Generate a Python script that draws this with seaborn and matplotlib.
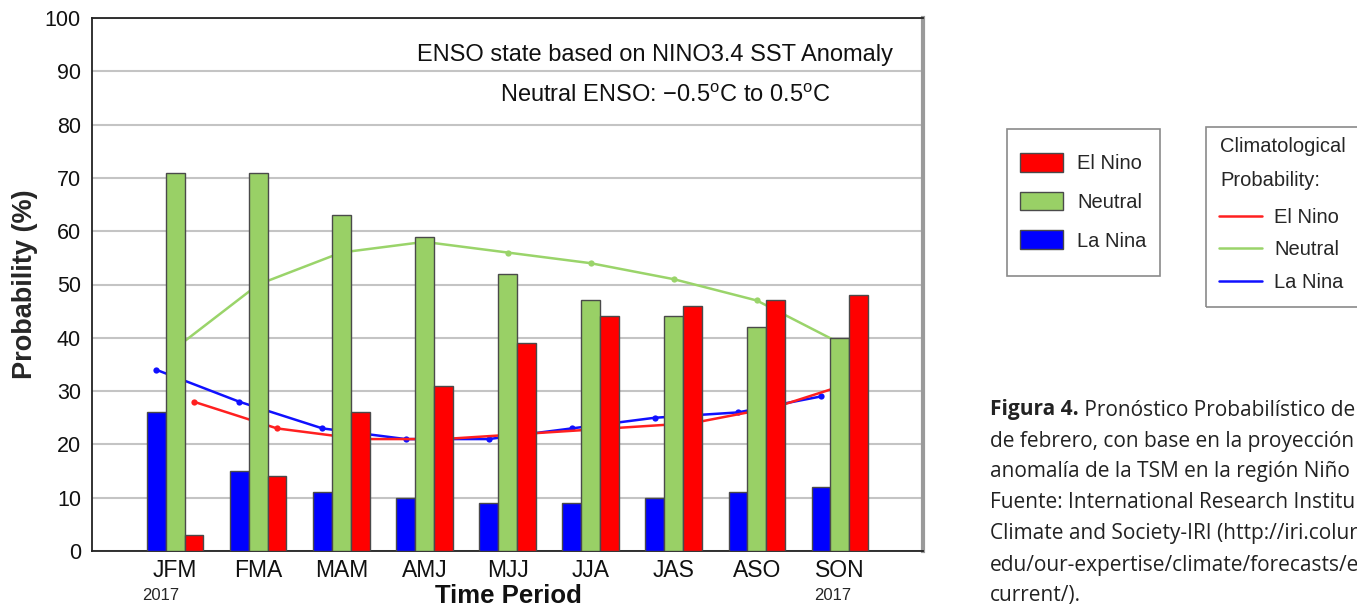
import numpy as np
import pandas as pd
import matplotlib.pyplot as plt
import seaborn as sns
from matplotlib.patches import Patch, Rectangle
from matplotlib.lines import Line2D

# data
periods = ["JFM", "FMA", "MAM", "AMJ", "MJJ", "JJA", "JAS", "ASO", "SON"]
la_nina = [26, 15, 11, 10, 9, 9, 10, 11, 12]
neutral = [71, 71, 63, 59, 52, 47, 44, 42, 40]
el_nino = [3, 14, 26, 31, 39, 44, 46, 47, 48]

# climatological probability
clim_la_nina = [34, 28, 23, 21, 21, 23, 25, 26, 29]
clim_neutral = [38, 50, 56, 58, 56, 54, 51, 47, 39]
clim_el_nino = [28, 23, 21, 21, 22, 23, 24, 27, 32]

states = ["La Nina", "Neutral", "El Nino"]
colors = {"La Nina": "#0000ff", "Neutral": "#99d066", "El Nino": "#ff0000"}
line_colors = {"La Nina": "#1010ff", "Neutral": "#9ad46a", "El Nino": "#ff2020"}

df = pd.DataFrame({
    "period": periods * 3,
    "state": ["La Nina"] * 9 + ["Neutral"] * 9 + ["El Nino"] * 9,
    "prob": la_nina + neutral + el_nino,
})

sns.set_theme(style="white")
plt.rcParams["font.family"] = ["Liberation Sans", "DejaVu Sans"]
plt.rcParams["mathtext.fontset"] = "custom"
plt.rcParams["mathtext.rm"] = "Liberation Sans"

W, H = 1357, 609
fig = plt.figure(figsize=(W / 100, H / 100), dpi=100)
ax = fig.add_axes([92 / W, 58 / H, 831 / W, 533 / H])

bar_w = 0.68
sns.barplot(data=df, x="period", y="prob", hue="state", hue_order=states,
            palette=colors, width=bar_w, saturation=1, edgecolor="#4a4a4a",
            linewidth=1, legend=False, ax=ax, zorder=3)

# climatology lines, drawn under the bars
off = bar_w / 3
xs = np.arange(len(periods))
for name, vals, dx in [("Neutral", clim_neutral, 0),
                       ("La Nina", clim_la_nina, -off),
                       ("El Nino", clim_el_nino, off)]:
    ax.plot(xs + dx, vals, color=line_colors[name], lw=1.8, marker="o",
            ms=4.5, mew=0, zorder=2)

ax.set_xlim(-1, 9)
ax.set_ylim(0, 100)
ax.set_yticks(range(0, 101, 10))
ax.yaxis.grid(True, color="#c4c4c4", lw=1.5, zorder=0)
ax.xaxis.grid(False)
ax.tick_params(axis="both", length=0, colors="#111111")
ax.tick_params(axis="x", pad=6, labelsize=16.5)
ax.tick_params(axis="y", pad=8, labelsize=15.5)
ax.set_xlabel("")
ax.set_ylabel("Probability (%)", fontsize=19.5, fontweight="bold", labelpad=5)

for side in ["left", "bottom", "top"]:
    ax.spines[side].set_color("#222222")
    ax.spines[side].set_linewidth(1.3)
ax.spines["right"].set_color("#9a9a9a")
ax.spines["right"].set_linewidth(3)

ax.text(8.64, 93, "ENSO state based on NINO3.4 SST Anomaly", ha="right",
        va="center", fontsize=17, color="#111111")
ax.text(5.9, 85.4, r"Neutral ENSO: $-$0.5$^{\rm o}$C to 0.5$^{\rm o}$C",
        ha="center", va="center", fontsize=17, color="#111111")

# x label and years below the tick labels
fig.text(508 / W, 1 - 596 / H, "Time Period", ha="center", va="center",
         fontsize=18.5, fontweight="bold", color="#111111")
fig.text(161 / W, 1 - 596 / H, "2017", ha="center", va="center", fontsize=12)
fig.text(833 / W, 1 - 596 / H, "2017", ha="center", va="center", fontsize=12)

# legend 1: forecast bars
fig.patches.append(Rectangle((1007 / W, 1 - 276 / H), 153 / W, 147 / H,
                             transform=fig.transFigure, fill=False,
                             ec="#8a8a8a", lw=1.2))
bar_handles = [Patch(fc=colors[s], ec="#4a4a4a", lw=1) for s in ["El Nino", "Neutral", "La Nina"]]
fig.legend(bar_handles, ["El Nino", "Neutral", "La Nina"], loc="upper left",
           bbox_to_anchor=(1020 / W, 1 - 153 / H), frameon=False,
           fontsize=14.5, borderpad=0, borderaxespad=0, handlelength=2.15,
           handleheight=1.05, handletextpad=0.7, labelspacing=0.92)

# legend 2: climatology lines
fig.patches.append(Rectangle((1206 / W, 1 - 307 / H), 170 / W, 180 / H,
                             transform=fig.transFigure, fill=False,
                             ec="#8a8a8a", lw=1.2))
fig.text(1220 / W, 1 - 147 / H, "Climatological", ha="left", va="center", fontsize=14.5)
fig.text(1220 / W, 1 - 181 / H, "Probability:", ha="left", va="center", fontsize=14.5)
line_handles = [Line2D([], [], color=line_colors[s], lw=1.8) for s in ["El Nino", "Neutral", "La Nina"]]
fig.legend(line_handles, ["El Nino", "Neutral", "La Nina"], loc="upper left",
           bbox_to_anchor=(1219 / W, 1 - 208 / H), frameon=False,
           fontsize=14.5, borderpad=0, borderaxespad=0, handlelength=2.15,
           handletextpad=0.6, labelspacing=0.66)

# caption on the right
cap_font = ["Open Sans", "DejaVu Sans"]
y0 = 410
bold = fig.text(990 / W, 1 - y0 / H, "Figura 4.", ha="left", va="center",
                fontsize=15, fontweight="bold", family=cap_font, color="#222222")
ax.annotate(" Pronóstico Probabilístico de", xy=(1, 0.5), xycoords=bold,
            ha="left", va="center", fontsize=15, family=cap_font,
            color="#222222", annotation_clip=False)
cap_lines = [
    "de febrero, con base en la proyección",
    "anomalía de la TSM en la región Niño",
    "Fuente: International Research Institu",
    "Climate and Society-IRI (http://iri.colur",
    "edu/our-expertise/climate/forecasts/e",
    "current/).",
]
for i, line in enumerate(cap_lines):
    fig.text(990 / W, 1 - (y0 + 31 * (i + 1)) / H, line, ha="left",
             va="center", fontsize=15, family=cap_font, color="#222222")

fig.savefig("out.png", dpi=100)
